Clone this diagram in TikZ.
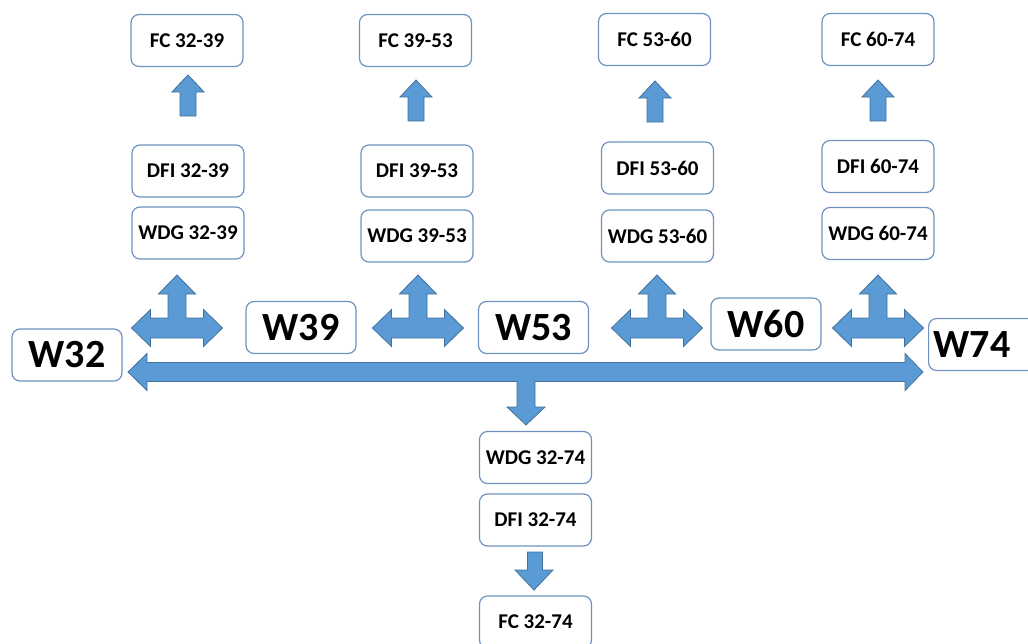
\documentclass[tikz,border=0pt]{standalone}
\usepackage{fontspec}
\setmainfont{Carlito}
\usetikzlibrary{calc}
\definecolor{mblue}{HTML}{5B9BD5}
\definecolor{mdark}{HTML}{41719C}
\definecolor{medge}{HTML}{6F92C0}
\tikzstyle{box}=[draw=medge, fill=white, rounded corners=8pt, line width=1.2, minimum width=112, minimum height=52, inner sep=0pt, font=\fontsize{21}{24}\selectfont\bfseries]
\tikzstyle{wbox}=[box, minimum width=110, font=\fontsize{40}{44}\selectfont\bfseries]
\tikzstyle{barrow}=[fill=mblue, draw=mdark, line width=0.8]
\tikzset{
  triarrow/.pic={
    \draw[barrow] (-45.5,0) -- (-26.5,-18.5) -- (-26.5,-10) -- (-9,-10) -- (-9,-34) -- (-18.5,-34) -- (0,-53)
      -- (18.5,-34) -- (9,-34) -- (9,-10) -- (26.5,-10) -- (26.5,-18.5) -- (45.5,0) -- (26.5,18.5)
      -- (26.5,10) -- (-26.5,10) -- (-26.5,18.5) -- cycle;
  },
  uparrow/.pic={
    \draw[barrow] (-8,0) -- (-8,-24) -- (-16,-24) -- (0,-41) -- (16,-24) -- (8,-24) -- (8,0) -- cycle;
  }
}

\begin{document}
\begin{tikzpicture}[x=1pt, y=-1pt]
    \clip (0,0) rectangle (1028,643);

    % main link W32 -- W74
    \draw[barrow] (128,372) -- (147,353.5) -- (147,362.5) -- (905,362.5) -- (905,353.5) -- (923,372)
        -- (905,390.5) -- (905,381.5) -- (535,381.5) -- (535,407) -- (545,407) -- (526,425)
        -- (507,407) -- (517,407) -- (517,381.5) -- (147,381.5) -- (147,390.5) -- cycle;

    \node[wbox] at (67,355) (w32) {W32};
    \node[wbox] at (301,327.5) (w39) {W39};
    \node[wbox] at (533.5,327.5) (w53) {W53};
    \node[wbox] at (766,324) (w60) {W60};
    \node[wbox, anchor=west, minimum width=0, text width=100, inner xsep=5, align=left] at (928,344.5) (w74) {W74};

    % 32-39
    \pic at (177,328) {triarrow};
    \node[box] at (188,233) (wdg1) {WDG 32-39};
    \node[box] at (188,171) (dfi1) {DFI 32-39};
    \pic at (188,116) {uparrow};
    \node[box] at (187,40.5) (fc1) {FC 32-39};

    % 39-53
    \pic at (418,328) {triarrow};
    \node[box] at (417,236) (wdg2) {WDG 39-53};
    \node[box] at (417,171) (dfi2) {DFI 39-53};
    \pic at (416,121) {uparrow};
    \node[box] at (415.5,40.5) (fc2) {FC 39-53};

    % 53-60
    \pic at (657,328) {triarrow};
    \node[box] at (657.5,236) (wdg3) {WDG 53-60};
    \node[box] at (657.5,168) (dfi3) {DFI 53-60};
    \pic at (655,122) {uparrow};
    \node[box] at (654.5,39.5) (fc3) {FC 53-60};

    % 60-74
    \pic at (878,328) {triarrow};
    \node[box] at (878,233.5) (wdg4) {WDG 60-74};
    \node[box] at (878,166.5) (dfi4) {DFI 60-74};
    \pic at (878,121) {uparrow};
    \node[box] at (878,39.5) (fc4) {FC 60-74};

    % 32-74
    \node[box] at (535.5,457.5) (wdg5) {WDG 32-74};
    \node[box] at (535.5,520) (dfi5) {DFI 32-74};
    \draw[barrow] (527.5,552) -- (527.5,570) -- (515,570) -- (534,590) -- (553,570) -- (542.5,570) -- (542.5,552) -- cycle;
    \node[box] at (535.5,622) (fc5) {FC 32-74};
\end{tikzpicture}
\end{document}
